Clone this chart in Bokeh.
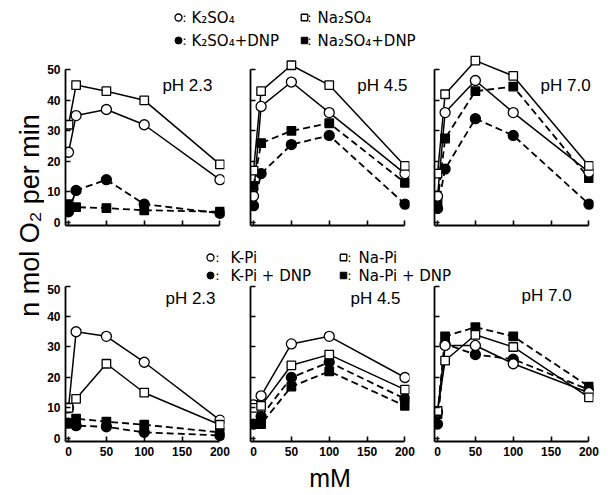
import numpy as np
from bokeh.plotting import figure
from bokeh.layouts import row, column
from bokeh.models import Range1d, FixedTicker, Label, CustomLabelingPolicy
from bokeh.embed import file_html
from bokeh.resources import INLINE
from bokeh.core.properties import value

# ---------------- data ----------------
conc = [0, 10, 50, 100, 200]

# sulfate (top row)
k2so4_ph23 = [23, 35, 37, 32, 14]
na2so4_ph23 = [32, 45, 43, 40, 19]
k2so4_dnp_ph23 = [3.5, 10.5, 14, 6, 3]
na2so4_dnp_ph23 = [6, 5, 4.7, 4, 3.5]

k2so4_ph45 = [8.6, 38, 46, 36, 16]
na2so4_ph45 = [17, 43, 51.5, 45, 18.5]
k2so4_dnp_ph45 = [5.5, 16, 25.5, 28.5, 6]
na2so4_dnp_ph45 = [12, 26, 30, 32.5, 13]

k2so4_ph70 = [8.6, 36, 46.5, 36, 16.5]
na2so4_ph70 = [16, 42, 53, 48, 18.5]
k2so4_dnp_ph70 = [4.6, 17.5, 34, 28.5, 6]
na2so4_dnp_ph70 = [6.7, 27.5, 43, 44.5, 14.5]

# phosphate (bottom row)
kpi_ph23 = [10, 35, 33.5, 25, 6]
napi_ph23 = [10, 13, 24.5, 15, 4.5]
kpi_dnp_ph23 = [5, 4.2, 3.8, 2, 1]
napi_dnp_ph23 = [5, 6.5, 5.5, 4.5, 2]

kpi_ph45 = [11, 14, 31, 33.5, 20]
napi_ph45 = [10, 10.7, 24, 27.5, 16]
kpi_dnp_ph45 = [4.7, 7.2, 20, 25, 13]
napi_dnp_ph45 = [4.7, 4.7, 17, 22, 10.7]

kpi_ph70 = [8.7, 30.5, 30.5, 24.5, 15]
napi_ph70 = [9, 25.5, 34, 30, 13.5]
kpi_dnp_ph70 = [4.7, 31, 27.5, 26, 16]
napi_dnp_ph70 = [8, 33.5, 36.5, 33.5, 17]

x_ticks = [0, 50, 100, 150, 200]
y_ticks = [0, 10, 20, 30, 40, 50]

top_legend = ["K₂SO₄", "Na₂SO₄", "K₂SO₄+DNP", "Na₂SO₄+DNP"]
bottom_legend = ["K-Pi", "Na-Pi", "K-Pi + DNP", "Na-Pi + DNP"]
ph_labels = ["pH  2.3", "pH  4.5", "pH  7.0"]
y_label = "n  mol  O₂  per  min"
x_label = "mM"

TICK_FONT = "Liberation Sans"
LEG_FONT = "DejaVu Sans"


def make_panel(sets, ph, ph_x, ph_y, y_end, frame_h, mbl, mbr, mbt, mbb,
               xlabels, ylabels, xtitle=None):
    p = figure(frame_width=159, frame_height=frame_h,
               x_range=Range1d(-4, 206), y_range=Range1d(-1, y_end),
               output_backend="svg", toolbar_location=None,
               min_border_left=mbl, min_border_right=mbr,
               min_border_top=mbt, min_border_bottom=mbb,
               outline_line_color=None, background_fill_color="white",
               border_fill_color="white")
    p.grid.visible = False
    for ax in (p.xaxis[0], p.yaxis[0]):
        ax.axis_line_width = 1.8
        ax.axis_line_color = "black"
        ax.major_tick_in = 5
        ax.major_tick_out = 0
        ax.minor_tick_in = 0
        ax.minor_tick_out = 0
        ax.major_tick_line_width = 1.6
        ax.major_label_text_font = TICK_FONT
        ax.major_label_text_font_style = "bold"
        ax.major_label_text_font_size = "12px"
        ax.major_label_text_color = "black"
        ax.major_label_standoff = 5
    p.xaxis.ticker = FixedTicker(ticks=x_ticks)
    p.yaxis.ticker = FixedTicker(ticks=y_ticks)
    p.xaxis.bounds = (-4, 200)
    p.yaxis.bounds = (-1, 50)
    if not xlabels:
        p.xaxis.major_label_text_font_size = "0px"
        p.xaxis.major_label_standoff = 0
        p.xaxis.major_label_policy = CustomLabelingPolicy(code="return []")
    if not ylabels:
        p.yaxis.major_label_text_font_size = "0px"
        p.yaxis.major_label_standoff = 0
        p.yaxis.major_label_policy = CustomLabelingPolicy(code="return []")
    if xtitle:
        p.xaxis.axis_label = xtitle
        p.xaxis.axis_label_text_font = TICK_FONT
        p.xaxis.axis_label_text_font_size = "25px"
        p.xaxis.axis_label_text_font_style = "normal"
        p.xaxis.axis_label_text_color = "black"
        p.xaxis.axis_label_standoff = 5

    # sets: (values, marker, filled, dashed)
    ordered = [s for s in sets if s[3]] + [s for s in sets if not s[3]]
    for vals, marker, filled, dashed in ordered:
        p.line(conc, vals, line_color="black",
               line_width=1.8 if dashed else 1.5,
               line_dash="7 4" if dashed else "solid")
    for vals, marker, filled, dashed in ordered:
        size = 10 if marker == "circle" else 8.5
        p.scatter(conc, vals, marker=marker, size=size,
                  fill_color="black" if filled else "white",
                  line_color="black", line_width=1.3)
    p.add_layout(Label(x=ph_x, y=ph_y, text=ph, text_font=TICK_FONT,
                       text_font_size="17px", text_baseline="middle",
                       text_align="left", text_color="black"))
    return p


def sets4(k, na, kd, nad):
    return [(k, "circle", False, False), (na, "square", False, False),
            (kd, "circle", True, True), (nad, "square", True, True)]


TOP_H, TOP_END = 174, 56
BOT_H, BOT_END = 157, 50.5

p1 = make_panel(sets4(k2so4_ph23, na2so4_ph23, k2so4_dnp_ph23, na2so4_dnp_ph23),
                ph_labels[0], 124, 45, TOP_END, TOP_H, 21, 8, 3, 10, False, True)
p2 = make_panel(sets4(k2so4_ph45, na2so4_ph45, k2so4_dnp_ph45, na2so4_dnp_ph45),
                ph_labels[1], 137, 45, TOP_END, TOP_H, 18, 8, 3, 10, False, False)
p3 = make_panel(sets4(k2so4_ph70, na2so4_ph70, k2so4_dnp_ph70, na2so4_dnp_ph70),
                ph_labels[2], 136, 45, TOP_END, TOP_H, 17, 15, 3, 10, False, False)

p4 = make_panel(sets4(kpi_ph23, napi_ph23, kpi_dnp_ph23, napi_dnp_ph23),
                ph_labels[0], 128, 46, BOT_END, BOT_H, 21, 8, 0, 25, True, True)
p5 = make_panel(sets4(kpi_ph45, napi_ph45, kpi_dnp_ph45, napi_dnp_ph45),
                ph_labels[1], 128, 46, BOT_END, BOT_H, 18, 8, 0, 54, True, False,
                xtitle=x_label)
p6 = make_panel(sets4(kpi_ph70, napi_ph70, kpi_dnp_ph70, napi_dnp_ph70),
                ph_labels[2], 111, 47, BOT_END, BOT_H, 17, 15, 0, 25, True, False)


def blank(w, h):
    f = figure(width=w, height=h, x_range=Range1d(0, w), y_range=Range1d(0, h),
               output_backend="svg", toolbar_location=None,
               x_axis_type=None, y_axis_type=None, min_border=0,
               outline_line_color=None)
    f.grid.visible = False
    return f


def legend_fig(w, h, labels, xm, xc, xt, xm2, xc2, xt2, y1, y2):
    f = blank(w, h)
    ys = [h - y1, h - y2]
    f.scatter([xm], [ys[0]], marker="circle", size=7, fill_color="white", line_color="black", line_width=1.3)
    f.scatter([xm2], [ys[0]], marker="square", size=6.5, fill_color="white", line_color="black", line_width=1.3)
    f.scatter([xm], [ys[1]], marker="circle", size=7, fill_color="black", line_color="black")
    f.scatter([xm2], [ys[1]], marker="square", size=6.5, fill_color="black", line_color="black")
    f.text([xc, xc2, xc, xc2], [ys[0], ys[0], ys[1], ys[1]], text=[":", ":", ":", ":"],
           text_font=value(LEG_FONT), text_font_size="13px", text_baseline="middle",
           text_align="center", text_color="black")
    f.text([xt, xt2, xt, xt2], [ys[0], ys[0], ys[1], ys[1]],
           text=[labels[0], labels[1], labels[2], labels[3]],
           text_font=value(LEG_FONT), text_font_size="15px", text_baseline="middle",
           text_align="left", text_color="black")
    return f


# canvas starts at the page's top-left corner
leg1 = legend_fig(608, 48, top_legend, 178, 184, 191, 304, 309, 317, 17, 40)
leg2 = legend_fig(564, 49, bottom_legend, 166, 173, 186, 299, 305, 314, 22, 40)

YL_H = 187 + 49 + 211
ylab = blank(44, YL_H)
ylab.text([29], [YL_H - 152], text=[y_label], angle=np.pi / 2,
          text_font=value(TICK_FONT), text_font_size="27px",
          text_align="center", text_baseline="middle", text_color="black")

layout = column(
    leg1,
    row(ylab, column(row(p1, p2, p3), leg2, row(p4, p5, p6))),
)

open("out.html", "w").write(file_html(layout, INLINE))
